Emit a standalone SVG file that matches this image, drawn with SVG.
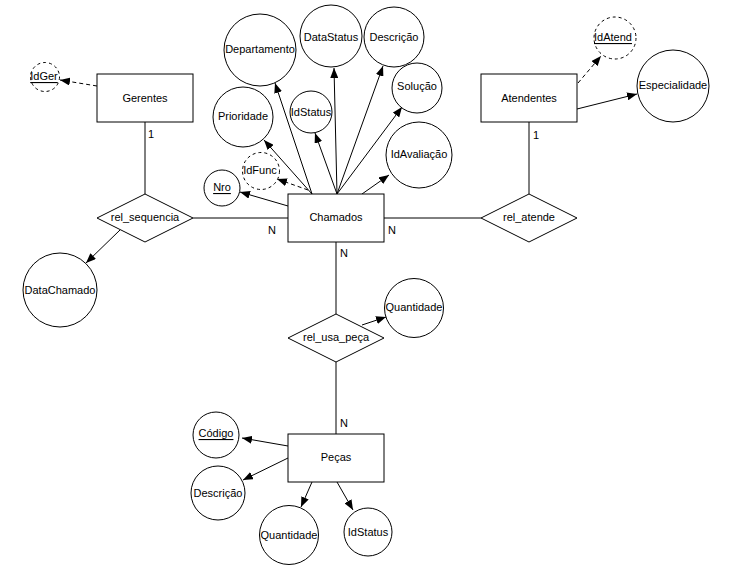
<svg xmlns="http://www.w3.org/2000/svg" width="737" height="576" viewBox="0 0 737 576">
<style>
.ent{fill:#fff;stroke:#000;stroke-width:1}
.att{fill:#fff;stroke:#000;stroke-width:1}
.key{fill:#fff;stroke:#000;stroke-width:1;stroke-dasharray:3,3}
.rel{fill:#fff;stroke:#000;stroke-width:1}
.ln{stroke:#000;stroke-width:1;fill:none}
.arr{stroke:#000;stroke-width:1;fill:none;marker-end:url(#ah)}
.darr{stroke:#000;stroke-width:1;fill:none;stroke-dasharray:4,3;marker-end:url(#ah)}
text{font-family:"Liberation Sans",Arial,sans-serif;font-size:11px;fill:#000;text-anchor:middle;dominant-baseline:central}
.u{text-decoration:underline}
</style>
<defs>
<marker id="ah" markerUnits="userSpaceOnUse" markerWidth="10" markerHeight="8" refX="10" refY="4" orient="auto">
<path d="M0,0 L10,4 L0,8 z" fill="#000"/>
</marker>
</defs>
<rect width="737" height="576" fill="#fff"/>
<g id="connectors">
<line class="darr" x1="97" y1="86" x2="60" y2="80"/>
<line class="ln" x1="145" y1="122" x2="145" y2="194"/>
<line class="ln" x1="193" y1="218" x2="288" y2="218"/>
<line class="arr" x1="120" y1="230" x2="86" y2="263"/>
<line class="arr" x1="288" y1="206" x2="240" y2="192"/>
<line class="darr" x1="308" y1="190" x2="277" y2="179"/>
<line class="arr" x1="312" y1="194" x2="264" y2="140"/>
<line class="arr" x1="312" y1="194" x2="275" y2="83"/>
<line class="arr" x1="337" y1="194" x2="315" y2="133"/>
<line class="arr" x1="337" y1="194" x2="334" y2="68"/>
<line class="arr" x1="337" y1="194" x2="383" y2="66"/>
<line class="arr" x1="337" y1="194" x2="402" y2="107"/>
<line class="arr" x1="362" y1="194" x2="389" y2="175"/>
<line class="ln" x1="384" y1="218" x2="481" y2="218"/>
<line class="ln" x1="529" y1="122" x2="529" y2="194"/>
<line class="darr" x1="578" y1="83" x2="601" y2="56"/>
<line class="arr" x1="577" y1="109" x2="637" y2="94"/>
<line class="ln" x1="336" y1="242" x2="336" y2="314"/>
<line class="arr" x1="362" y1="325" x2="386" y2="317"/>
<line class="ln" x1="336" y1="362" x2="336" y2="434"/>
<line class="arr" x1="288" y1="446" x2="242" y2="438"/>
<line class="arr" x1="288" y1="458" x2="243" y2="480"/>
<line class="arr" x1="312" y1="482" x2="301" y2="507"/>
<line class="arr" x1="337" y1="482" x2="353" y2="510"/>
</g>
<text x="151" y="134">1</text>
<text x="536" y="135">1</text>
<text x="272" y="230">N</text>
<text x="392" y="230">N</text>
<text x="344" y="253">N</text>
<text x="344" y="423">N</text>
<g id="Gerentes"><rect class="ent" x="97" y="74" width="96" height="48"/><text x="145" y="98">Gerentes</text></g>
<g id="IdGer"><circle class="key" cx="45" cy="77" r="14.5"/><text class="u" x="44" y="76">IdGer</text></g>
<g id="rel_sequencia"><polygon class="rel" points="97,218 145,194 193,218 145,242"/><text x="145" y="217">rel_sequencia</text></g>
<g id="DataChamado"><circle class="att" cx="60" cy="290" r="37"/><text x="60" y="290">DataChamado</text></g>
<g id="Chamados"><rect class="ent" x="288" y="194" width="96" height="48"/><text x="336" y="217">Chamados</text></g>
<g id="Nro"><circle class="att" cx="222" cy="188" r="18"/><text class="u" x="222" y="187">Nro</text></g>
<g id="IdFunc"><circle class="key" cx="261" cy="171" r="18.5"/><text x="260" y="170">IdFunc</text></g>
<g id="Prioridade"><circle class="att" cx="243" cy="117" r="30"/><text x="243" y="116">Prioridade</text></g>
<g id="Departamento"><circle class="att" cx="260" cy="50" r="36"/><text x="260" y="49">Departamento</text></g>
<g id="IdStatus"><circle class="att" cx="311" cy="112" r="21"/><text x="311" y="112">IdStatus</text></g>
<g id="DataStatus"><circle class="att" cx="331" cy="36" r="31"/><text x="331" y="37">DataStatus</text></g>
<g id="Descricao"><circle class="att" cx="394" cy="37" r="30"/><text x="394" y="37">Descrição</text></g>
<g id="Solucao"><circle class="att" cx="417" cy="88" r="25"/><text x="417" y="86">Solução</text></g>
<g id="IdAvaliacao"><circle class="att" cx="419" cy="155" r="33"/><text x="419" y="154">IdAvaliação</text></g>
<g id="Atendentes"><rect class="ent" x="481" y="74" width="96" height="48"/><text x="529" y="98">Atendentes</text></g>
<g id="IdAtend"><circle class="key" cx="615" cy="38" r="21"/><text class="u" x="613" y="37">IdAtend</text></g>
<g id="Especialidade"><circle class="att" cx="673" cy="86" r="36"/><text x="673" y="85">Especialidade</text></g>
<g id="rel_atende"><polygon class="rel" points="481,218 529,194 577,218 529,242"/><text x="529" y="217">rel_atende</text></g>
<g id="rel_usa_peca"><polygon class="rel" points="288,338 336,314 384,338 336,362"/><text x="336" y="337">rel_usa_peça</text></g>
<g id="Quantidade_rel"><circle class="att" cx="414" cy="308" r="29.5"/><text x="414" y="307">Quantidade</text></g>
<g id="Pecas"><rect class="ent" x="288" y="434" width="96" height="48"/><text x="336" y="457">Peças</text></g>
<g id="Codigo"><circle class="att" cx="216" cy="435" r="23"/><text class="u" x="216" y="433">Código</text></g>
<g id="Descricao_pecas"><circle class="att" cx="218" cy="493" r="27"/><text x="218" y="493">Descrição</text></g>
<g id="Quantidade_pecas"><circle class="att" cx="289" cy="535" r="29.5"/><text x="289" y="535">Quantidade</text></g>
<g id="IdStatus_pecas"><circle class="att" cx="368" cy="532" r="24"/><text x="368" y="532">IdStatus</text></g>
</svg>
